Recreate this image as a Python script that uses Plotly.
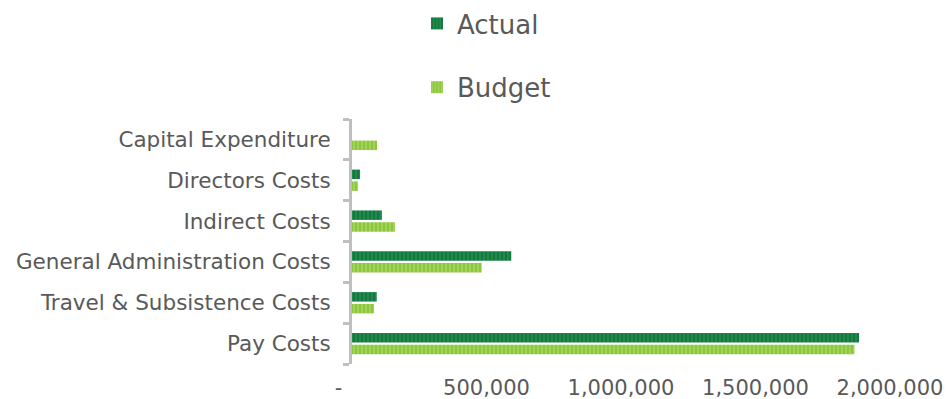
import plotly.graph_objects as go

categories = ["Pay Costs", "Travel & Subsistence Costs", "General Administration Costs",
              "Indirect Costs", "Directors Costs", "Capital Expenditure"]
actual = [1885000, 92000, 592000, 111000, 30000, 0]
budget = [1868000, 82000, 482000, 160000, 22000, 93000]
tick_vals = [0, 500000, 1000000, 1500000, 2000000]
tick_text = ["-\u2007\u2007", "500,000", "1,000,000", "1,500,000", "2,000,000"]

FONT = "DejaVu Sans"

fig = go.Figure()
fig.add_trace(go.Bar(
    y=categories, x=budget, name="Budget", orientation="h",
    legendgroup="b", legendrank=2,
    marker=dict(color="#8cc63f", line=dict(width=0),
                pattern=dict(shape="|", fgcolor="#bbe176", size=4, solidity=0.45)),
))
fig.add_trace(go.Bar(
    y=categories, x=actual, name="Actual", orientation="h",
    legendgroup="a", legendrank=1,
    marker=dict(color="#1f8a4c", line=dict(width=0),
                pattern=dict(shape="|", fgcolor="#08602d", size=4, solidity=0.45)),
))

fig.update_layout(
    width=948, height=399,
    margin=dict(l=352, r=58, t=119, b=35),
    paper_bgcolor="white", plot_bgcolor="white",
    barmode="group", bargap=0.42, bargroupgap=0.2,
    font=dict(family=FONT, size=21, color="#595959"),
    showlegend=True,
    legend=dict(orientation="v", x=0.25, xanchor="center", xref="paper",
                y=1.0, yanchor="top", yref="container",
                font=dict(size=26, color="#595959"),
                traceorder="grouped", tracegroupgap=27,
                itemwidth=30),
    xaxis=dict(range=[0, 2000000], tickvals=tick_vals, ticktext=tick_text,
               showgrid=False, zeroline=False, showline=False, ticks="",
               automargin=False,
               tickfont=dict(size=21, color="#595959"), ticklabelstandoff=9),
    yaxis=dict(type="category", categoryorder="array", categoryarray=categories,
               showgrid=False, zeroline=False, showline=True, linecolor="#bfbfbf",
               linewidth=3, ticks="outside", tickson="boundaries", ticklen=6,
               tickcolor="#bfbfbf", tickwidth=3, automargin=False,
               tickfont=dict(size=21.5, color="#595959"), ticklabelstandoff=14),
)

fig.write_html("out.html")
